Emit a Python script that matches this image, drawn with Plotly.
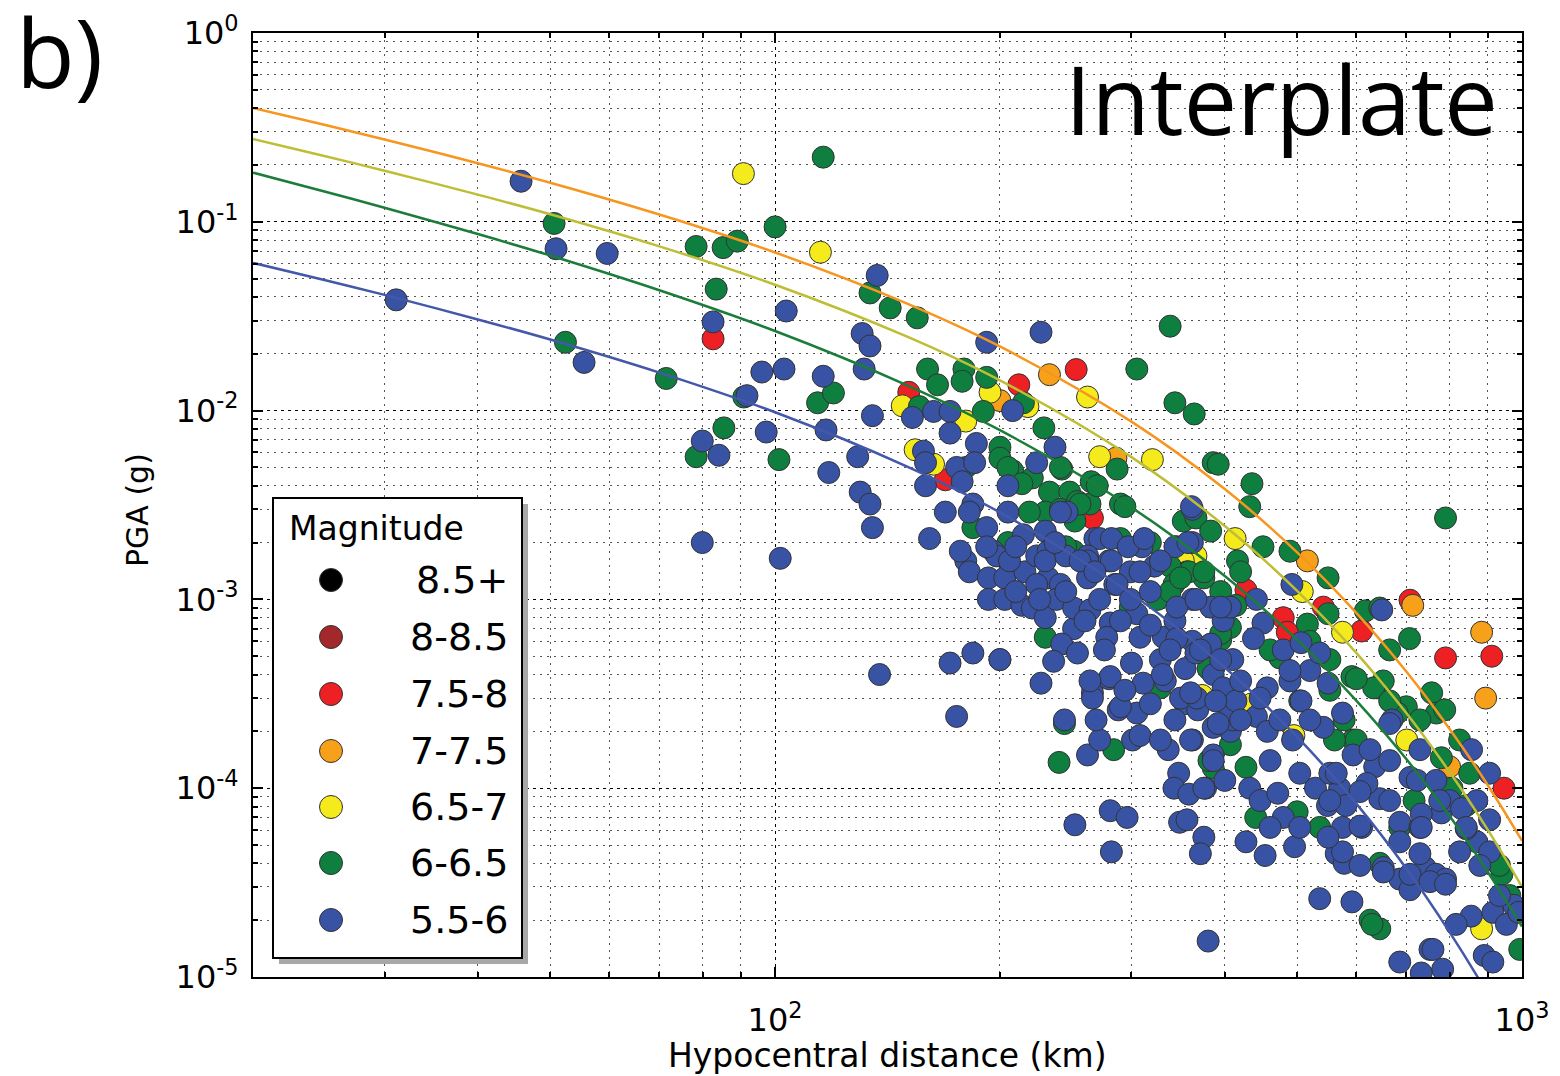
import plotly.graph_objects as go

# ---------------- data ----------------
magnitude_labels = ["8.5+", "8-8.5", "7.5-8", "7-7.5", "6.5-7", "6-6.5", "5.5-6"]
magnitude_colors = ["#000000", "#A3282B", "#ED2024", "#F7A11A", "#F4EA1C", "#0E7F3F", "#3953A4"]

# (hypocentral distance km, PGA g)
pts_red = [(82.6, 0.024), (253, 0.0165), (212, 0.0137), (151, 0.0125), (169, 0.0043), (266, 0.0027),
           (427, 0.00112), (542, 0.00091), (610, 0.00068), (708, 0.00099), (790, 0.00049), (911, 0.0005),
           (946, 0.0001), (383, 0.00049), (479, 0.0008), (485, 0.00067)]

pts_orange = [(233, 0.0155), (200, 0.0113), (516, 0.0016), (714, 0.00093), (883, 0.00067), (894, 0.0003),
              (286, 0.0056), (800, 0.00013)]

pts_yellow = [(90.7, 0.18), (115, 0.069), (262, 0.0118), (194, 0.0125), (148, 0.0106), (180, 0.0088),
              (154, 0.0062), (163, 0.0052), (272, 0.0057), (320, 0.0055), (413, 0.0021), (345, 0.0019),
              (366, 0.0017), (508, 0.0011), (575, 0.00067), (701, 0.00018), (883, 0.000018), (352, 0.0016),
              (218, 0.0105), (435, 0.00028), (373, 0.00031), (495, 0.00019)]

pts_green = [(50.6, 0.098), (52.4, 0.023), (71.5, 0.0148), (116, 0.22), (100, 0.094), (78.4, 0.074),
             (85.2, 0.073), (89, 0.079), (83.4, 0.044), (90.8, 0.0118), (114, 0.011), (119.7, 0.0124),
             (85.4, 0.0081), (78.4, 0.0057), (101.2, 0.0055), (134, 0.042), (142.6, 0.035), (155, 0.031),
             (160, 0.0166), (179, 0.0166), (178, 0.0143), (192, 0.015), (165, 0.0137), (156, 0.0105),
             (190, 0.0099), (215, 0.011), (229, 0.0081), (200, 0.0064), (200, 0.0056), (242, 0.0049),
             (208, 0.0048), (221, 0.0044), (233, 0.0037), (248, 0.0037), (230, 0.0029), (254, 0.0033),
             (184, 0.0024), (338, 0.028), (305, 0.0166), (343, 0.011), (364, 0.0096), (287, 0.0049),
             (386, 0.0053), (392, 0.0052), (435, 0.0041), (432, 0.0031), (790, 0.0027), (352, 0.0026),
             (366, 0.0027), (290, 0.0032), (265, 0.0042), (241, 0.005), (252, 0.0026), (450, 0.0019),
             (489, 0.0018), (550, 0.0013), (383, 0.0023), (356, 0.0014), (375, 0.0013), (416, 0.0016),
             (420, 0.0014), (550, 0.00084), (516, 0.00074), (617, 0.00087), (645, 0.0009), (707, 0.00062),
             (757, 0.00032), (768, 0.00025), (639, 0.00034), (592, 0.00039), (652, 0.00037), (700, 0.00027),
             (780, 0.000145), (940, 0.000035), (993, 0.000014), (626, 0.00002), (645, 0.000018), (474, 0.00049),
             (427, 0.000129), (440, 0.00007), (500, 0.000075), (536, 0.000062), (594, 0.00018), (633, 0.00034),
             (681, 0.00025), (645, 0.00004), (717, 0.000086), (686, 0.000062), (788, 0.00026), (806, 0.0001),
             (842, 0.000081), (933, 0.000039), (963, 0.000027), (630, 0.000019), (600, 0.00018), (561, 0.00018),
             (240, 0.000137), (284, 0.00016), (244, 0.00022), (266, 0.00035), (328, 0.00034), (380, 0.00043),
             (386, 0.000128), (294, 0.0031), (251, 0.0018), (358, 0.0014), (338, 0.0015), (342, 0.0012),
             (230, 0.00063), (299, 0.00091), (325, 0.001), (338, 0.0011), (395, 0.00061), (407, 0.00071),
             (200, 0.00048), (205, 0.005), (214, 0.0041), (264, 0.0032), (270, 0.004), (241, 0.003),
             (219, 0.0029), (180, 0.005), (375, 0.0014), (256, 0.0032), (205, 0.002), (245, 0.0019),
             (290, 0.0021), (318, 0.002), (349, 0.0013), (395, 0.0011), (414, 0.00093), (395, 0.00066),
             (407, 0.00017), (381, 0.00014), (553, 0.00048), (600, 0.00038),
             (553, 0.00033), (578, 0.00023), (665, 0.00029), (730, 0.00023), (825, 0.00018), (851, 0.00012),
             (504, 0.00029), (460, 0.00054), (520, 0.0006), (665, 0.00054)]

pts_blue = [(31.1, 0.0386), (45.7, 0.164), (50.9, 0.072), (59.6, 0.068), (55.5, 0.018), (103.5, 0.0337),
            (82.6, 0.0295), (96, 0.016), (102.8, 0.0166), (116, 0.0152), (91.7, 0.012), (79.9, 0.0069),
            (84.1, 0.0058), (97.3, 0.0077), (117, 0.0079), (118, 0.0047), (79.9, 0.002), (101.6, 0.00165),
            (130.8, 0.0256), (134, 0.022), (131.6, 0.0166), (137, 0.052), (192, 0.023), (227, 0.026),
            (135, 0.0094), (129, 0.0057), (130, 0.0037), (134, 0.0032), (135, 0.0024), (152.7, 0.0092),
            (163, 0.0099), (171.5, 0.0099), (208, 0.01), (171.5, 0.0076), (186, 0.0067), (237, 0.0064),
            (158, 0.0061), (159, 0.0053), (175, 0.005), (185, 0.0053), (224, 0.0053), (178, 0.0042),
            (159, 0.004), (205, 0.004), (184, 0.0032), (205, 0.0029), (169, 0.0029), (246, 0.0029),
            (192, 0.0024), (215, 0.0022), (230, 0.0023), (161, 0.0021), (268, 0.0021), (180, 0.0016),
            (182, 0.0014), (196, 0.0018), (205, 0.0016), (193, 0.0013), (203, 0.0013), (216, 0.0014),
            (224, 0.0017), (232, 0.0018), (232, 0.0013), (241, 0.0012), (193, 0.001), (203, 0.001),
            (214, 0.00093), (221, 0.0009), (230, 0.0008), (238, 0.001), (254, 0.00087), (251, 0.0007),
            (242, 0.00058), (236, 0.00047), (254, 0.00052), (171.5, 0.00046), (184, 0.00052), (200, 0.00048),
            (138, 0.0004), (227, 0.00036), (266, 0.00032), (175, 0.00024), (262, 0.00015), (301, 0.00018),
            (272, 0.00018), (244, 0.00023), (269, 0.00023), (288, 0.00026), (305, 0.00025), (280, 0.00038),
            (300, 0.00046), (311, 0.00036), (328, 0.00048), (333, 0.00037), (354, 0.00043), (354, 0.00028),
            (368, 0.00026), (336, 0.00016), (347, 0.00012), (342, 0.0001), (358, 0.000093), (377, 0.0001),
            (362, 0.00018), (386, 0.00015), (400, 0.00011), (407, 0.0002), (410, 0.00023), (252, 0.000064),
            (281, 0.000076), (296, 0.00007), (282, 0.000046), (348, 0.000066), (375, 0.000055), (371, 0.000045),
            (380, 0.0000155), (182, 0.0029), (241, 0.0029), (362, 0.003), (272, 0.0021), (310, 0.002),
            (362, 0.002), (198, 0.0017), (206, 0.0016), (224, 0.0012), (230, 0.0016), (245, 0.0017),
            (262, 0.0017), (280, 0.0016), (262, 0.0013), (285, 0.0012), (299, 0.0014), (310, 0.0019),
            (322, 0.0015), (343, 0.0019), (251, 0.0009), (264, 0.00088), (281, 0.00075), (278, 0.00063),
            (305, 0.00084), (308, 0.00063), (331, 0.00063), (343, 0.00077), (362, 0.001), (383, 0.00091),
            (362, 0.0006), (398, 0.00077), (407, 0.00091), (281, 0.00039), (330, 0.0004), (349, 0.0003),
            (367, 0.0003), (266, 0.0003), (290, 0.00027), (386, 0.0004), (407, 0.00033), (386, 0.00021),
            (407, 0.00026), (361, 0.0031), (492, 0.0012), (649, 0.00088), (856, 0.00016), (975, 0.000024),
            (855, 0.000021), (914, 0.000022), (816, 0.000019), (890, 0.000013), (686, 0.000012), (753, 0.000014),
            (536, 0.000026), (592, 0.000025), (360, 0.00032), (392, 0.00022), (360, 0.00018), (386, 0.00014),
            (375, 0.0001), (356, 0.000068), (432, 0.0001), (446, 0.000086), (471, 0.000094), (479, 0.00007),
            (427, 0.000052), (453, 0.000044), (496, 0.000049), (529, 0.0001), (570, 0.0001), (549, 0.000081),
            (581, 0.000081), (575, 0.000062), (564, 0.000045), (578, 0.00004), (610, 0.000062), (645, 0.000088),
            (635, 0.00013), (594, 0.00015), (553, 0.00012), (670, 0.00023), (708, 0.000114), (686, 0.000066),
            (730, 0.000062), (742, 0.000038), (767, 0.000035), (790, 0.000033), (686, 0.000033), (708, 0.000029),
            (652, 0.000038), (953, 0.000019), (760, 0.000014), (914, 0.000012), (783, 0.000011), (733, 0.0000105),
            (870, 0.000086), (905, 0.000068), (870, 0.000052), (905, 0.000046), (780, 0.000074), (842, 0.000061),
            (905, 0.00012), (456, 0.00034), (489, 0.00037), (520, 0.00042), (398, 0.00034), (414, 0.00029),
            (441, 0.00024), (506, 0.00029), (550, 0.00036), (575, 0.00025), (626, 0.00016), (542, 0.00021),
            (493, 0.00018), (456, 0.0002), (564, 0.00012), (620, 0.000106), (665, 0.00022), (724, 0.00011),
            (767, 0.00011), (800, 0.000086), (830, 0.000078), (733, 0.000073), (665, 0.000086), (686, 0.000052),
            (733, 0.000062), (842, 0.000062), (575, 0.000046), (550, 0.000055), (607, 0.000063), (652, 0.000036),
            (708, 0.000035), (753, 0.000032), (790, 0.000031), (933, 0.000027), (282, 0.0021), (262, 0.0016),
            (282, 0.0016), (297, 0.0019), (312, 0.0021), (328, 0.0016), (357, 0.002), (308, 0.0014),
            (287, 0.0012), (299, 0.001), (318, 0.0011), (345, 0.00091), (366, 0.001), (395, 0.00091),
            (441, 0.001), (450, 0.00075), (437, 0.00062), (479, 0.00054), (506, 0.00059), (536, 0.00052),
            (489, 0.00042), (410, 0.00048), (383, 0.00058), (345, 0.00062), (366, 0.00052), (990, 0.000022),
            (272, 0.001), (290, 0.00077), (318, 0.00073), (338, 0.00054), (371, 0.00054), (395, 0.00048),
            (420, 0.00037), (276, 0.00054), (294, 0.00033), (318, 0.00028), (343, 0.00023), (389, 0.00029),
            (420, 0.00023), (264, 0.00037), (308, 0.00019), (328, 0.00018), (177, 0.0018), (192, 0.0019),
            (210, 0.0019), (237, 0.002), (256, 0.0016), (210, 0.0011), (245, 0.0011), (268, 0.0014),
            (260, 0.00077), (226, 0.001), (446, 0.0003), (474, 0.00023), (520, 0.00023), (460, 0.00014),
            (504, 0.00012), (553, 0.000086), (607, 0.000096), (665, 0.00014), (730, 0.00016), (776, 0.000086),
            (825, 0.000046), (878, 0.000039), (730, 0.000045), (607, 0.000039), (504, 0.000062), (460, 0.000062)]

# model curves
curve_dist = [20, 25, 30, 40, 50, 70, 100, 150, 200, 300, 400, 500, 600, 700, 800, 900, 1000]
curve_m55_6 = [0.0606, 0.0490, 0.0410, 0.0304, 0.0238, 0.0159, 0.0098, 0.00507, 0.00289, 0.00107,
               0.000436, 0.000187, 0.0000829, 0.0000376, 0.0000173, 0.0000081, 0.0000038]
curve_m6_65 = [0.1822, 0.1443, 0.1187, 0.0861, 0.0663, 0.0434, 0.0264, 0.01366, 0.00788, 0.00307,
               0.00133, 0.00061, 0.000291, 0.0001427, 0.0000712, 0.000036, 0.0000185]
curve_m65_7 = [0.2742, 0.2225, 0.1865, 0.1393, 0.1096, 0.0741, 0.0464, 0.0247, 0.01446, 0.00567,
               0.002445, 0.00111, 0.000521, 0.00025, 0.0001218, 0.0000601, 0.00003]
curve_m7_75 = [0.4006, 0.3253, 0.2729, 0.2043, 0.1611, 0.1093, 0.0688, 0.037, 0.02186, 0.00874,
               0.00384, 0.001776, 0.000849, 0.000415, 0.000206, 0.0001037, 0.0000527]

x_ticks = [100, 1000]
x_ticktext = ["10<sup>2</sup>", "10<sup>3</sup>"]
y_ticks = [1e-5, 1e-4, 1e-3, 1e-2, 1e-1, 1]
y_ticktext = ["10<sup>-5</sup>", "10<sup>-4</sup>", "10<sup>-3</sup>", "10<sup>-2</sup>", "10<sup>-1</sup>", "10<sup>0</sup>"]

# ---------------- figure ----------------
# page body has an 8px margin, so the figure is 8px smaller and shifted
OFF = 8
W, H = 1560 - OFF, 1076 - OFF
L_ref, T_ref, PW, PH = 253, 33, 1269, 944
L, T = L_ref - OFF, T_ref - OFF
R, B = W - L - PW, H - T - PH

fig = go.Figure()

series = [(pts_red, magnitude_colors[2]), (pts_orange, magnitude_colors[3]),
          (pts_yellow, magnitude_colors[4]), (pts_green, magnitude_colors[5]),
          (pts_blue, magnitude_colors[6])]
for pts, col in series:
    fig.add_trace(go.Scatter(
        x=[p[0] for p in pts], y=[p[1] for p in pts], mode="markers",
        marker=dict(size=22, color=col, line=dict(color="#333333", width=1)),
        showlegend=False, hoverinfo="skip"))

curves = [(curve_m55_6, "#4358A8"), (curve_m6_65, "#1C7D3A"),
          (curve_m65_7, "#BDBE35"), (curve_m7_75, "#F7961F")]
for vals, col in curves:
    fig.add_trace(go.Scatter(x=curve_dist, y=vals, mode="lines", line=dict(color=col, width=2.5, shape="spline"),
                             showlegend=False, hoverinfo="skip"))

minor_x = [20, 30, 40, 50, 60, 70, 80, 90, 200, 300, 400, 500, 600, 700, 800, 900]
minor_y = [k * 10.0 ** e for e in range(-5, 0) for k in range(2, 10)]

axis_font = dict(family="DejaVu Sans", size=32, color="black")
common = dict(type="log", showline=True, linecolor="black", linewidth=2, mirror="allticks",
              ticks="inside", ticklen=10, tickwidth=1.5, tickcolor="black",
              showgrid=True, gridcolor="black", gridwidth=1, griddash="3px,4px",
              zeroline=False, tickfont=axis_font, tickmode="array")

fig.update_xaxes(range=[1.30103, 3], tickvals=x_ticks, ticktext=x_ticktext, ticklabelstandoff=14,
                 minor=dict(tickmode="array", tickvals=minor_x, ticks="inside", ticklen=5, tickcolor="black",
                            showgrid=True, gridcolor="#555555", gridwidth=1, griddash="2px,5px"),
                 **common)
fig.update_yaxes(range=[-5, 0], tickvals=y_ticks, ticktext=y_ticktext, ticklabelstandoff=6,
                 minor=dict(tickmode="array", tickvals=minor_y, ticks="inside", ticklen=5, tickcolor="black",
                            showgrid=True, gridcolor="#555555", gridwidth=1, griddash="2px,5px"),
                 **common)

def px(xp):
    return (xp - L_ref) / PW

def py(yp):
    return (T_ref + PH - yp) / PH

shapes = []
annotations = []
# legend box with shadow
shapes.append(dict(type="rect", xref="paper", yref="paper", x0=px(279), x1=px(528), y0=py(964), y1=py(504),
                   fillcolor="#A8A8A8", line=dict(width=0), layer="above"))
shapes.append(dict(type="rect", xref="paper", yref="paper", x0=px(273), x1=px(522), y0=py(958), y1=py(498),
                   fillcolor="white", line=dict(color="black", width=2), layer="above"))
row_y = [580, 637, 694, 751, 807, 863, 920]
rad = 11.5
for lab, col, yy in zip(magnitude_labels, magnitude_colors, row_y):
    shapes.append(dict(type="circle", xref="paper", yref="paper",
                       x0=px(331 - rad), x1=px(331 + rad), y0=py(yy + rad), y1=py(yy - rad),
                       fillcolor=col, line=dict(color="#333333", width=1), layer="above"))
    annotations.append(dict(text=lab, xref="paper", yref="paper", x=px(510), y=py(yy), xanchor="right",
                            yanchor="middle", showarrow=False,
                            font=dict(family="DejaVu Sans", size=38, color="black")))
annotations.append(dict(text="Magnitude", xref="paper", yref="paper", x=px(287), y=py(528), xanchor="left",
                        yanchor="middle", showarrow=False, font=dict(family="DejaVu Sans", size=33, color="black")))

# axis titles
annotations.append(dict(text="PGA (g)", xref="paper", yref="paper", x=px(137), y=py(510), textangle=-90,
                        xanchor="center", yanchor="middle", showarrow=False,
                        font=dict(family="DejaVu Sans", size=30, color="black")))
annotations.append(dict(text="Hypocentral distance (km)", xref="paper", yref="paper", x=px(888), y=py(1055),
                        xanchor="center", yanchor="middle", showarrow=False,
                        font=dict(family="DejaVu Sans", size=33, color="black")))
# panel label and title
annotations.append(dict(text="b)", xref="paper", yref="paper", x=px(14), y=py(50), xanchor="left",
                        yanchor="middle", showarrow=False, font=dict(family="Open Sans", size=96, color="black")))
annotations.append(dict(text="Interplate", xref="paper", yref="paper", x=px(1500), y=py(98), xanchor="right",
                        yanchor="middle", showarrow=False, font=dict(family="Open Sans", size=95, color="black")))

fig.update_layout(width=W, height=H, margin=dict(l=L, r=R, t=T, b=B, autoexpand=False),
                  paper_bgcolor="white", plot_bgcolor="white", showlegend=False,
                  shapes=shapes, annotations=annotations)

fig.write_html("out.html")
